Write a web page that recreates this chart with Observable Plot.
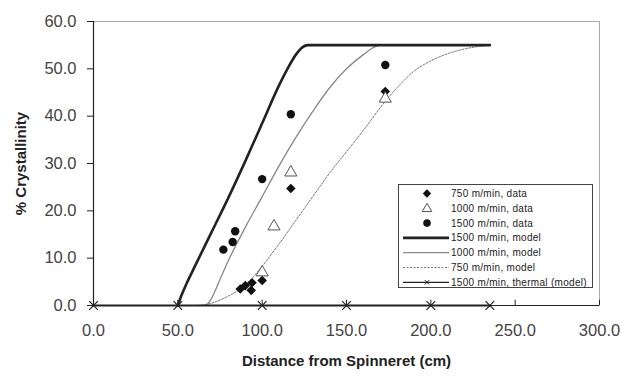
<!DOCTYPE html>
<html>
<head>
<meta charset="utf-8">
<script src="https://cdn.jsdelivr.net/npm/d3@7"></script>
<script src="https://cdn.jsdelivr.net/npm/@observablehq/plot@0.6"></script>
<style>
  body { margin: 0; background: #fff; }
  #wrap { position: relative; width: 622px; height: 383px; font-family: Arial, "Liberation Sans", sans-serif; }
  #legend { position: absolute; left: 398px; top: 184px; }
</style>
</head>
<body>
<div id="wrap"></div>
<script>
// ---- data ----
const data750 = [[87,3.5],[90,4.2],[94,4.8],[93.5,3.2],[100,5.3],[117,24.7],[173,45.2]];
const data1000 = [[100,7.0],[107,16.7],[117,28.1],[173,43.7]];
const data1500 = [[77,11.8],[82.5,13.4],[84,15.7],[100,26.7],[117,40.4],[173,50.8]];

const model1500 = [[50,0],[52,2],[55,4.5],[60,8.2],[70,15.5],[80,22.8],[90,30.5],[100,38.5],[110,46.5],[115,50],[120,53],[124,54.6],[127,55],[235,55]];
const model1000 = [[67,0],[70,1.5],[75,5.5],[80,9.5],[90,16.5],[100,23],[110,29.5],[120,35.5],[130,41],[140,46],[150,50],[160,53],[166,54.5],[170,55],[235,55]];
const model750 = [[62,0],[70,0.5],[80,2],[90,4.3],[100,8.3],[110,13],[120,18],[130,23],[140,28],[150,32.5],[160,37],[170,41.8],[180,46],[190,49.5],[200,51.7],[210,53.2],[220,54.2],[235,55]];
const thermal1500 = [[0,0],[50,0],[100,0],[150,0],[200,0],[235,0]];

const xTicks = [0,50,100,150,200,250,300];
const yTicks = [0,10,20,30,40,50,60];
const xTitle = "Distance from Spinneret (cm)";
const yTitle = "% Crystallinity";

const legendItems = [
  {label: "750 m/min, data", kind: "diamond"},
  {label: "1000 m/min, data", kind: "triangle"},
  {label: "1500 m/min, data", kind: "circle"},
  {label: "1500 m/min, model", kind: "thick"},
  {label: "1000 m/min, model", kind: "thin"},
  {label: "750 m/min, model", kind: "dash"},
  {label: "1500 m/min, thermal (model)", kind: "thermal"}
];

const fmt = d3.format(".1f");
const pt = a => a.map(([x, y]) => ({x, y}));

const chart = Plot.plot({
  width: 622,
  height: 383,
  marginLeft: 93,
  marginRight: 23,
  marginTop: 21,
  marginBottom: 78,
  style: {fontFamily: "Arial, 'Liberation Sans', sans-serif", fontSize: "16.5px", color: "#333", background: "#fff"},
  x: {domain: [0, 300]},
  y: {domain: [0, 60]},
  marks: [
    Plot.frame({stroke: "#aaa", strokeWidth: 1}),
    Plot.axisY({ticks: yTicks, tickFormat: fmt, tickSize: 6, tickPadding: 11, label: null, stroke: "#222", fill: "#444", fontSize: 16.5}),
    Plot.axisX({ticks: xTicks, tickFormat: fmt, tickSize: 0, tickPadding: 19, label: null, fill: "#444", fontSize: 16.5}),
    Plot.ruleX(xTicks, {y1: 0, y2: 1.1, stroke: "#222"}),
    Plot.ruleX([0], {stroke: "#222", strokeWidth: 1.2}),
    Plot.ruleY([0], {stroke: "#222", strokeWidth: 1.2}),
    Plot.line(pt(model750), {x: "x", y: "y", stroke: "#777", strokeWidth: 1, strokeDasharray: "2,1.5", curve: "monotone-x"}),
    Plot.line(pt(model1000), {x: "x", y: "y", stroke: "#888", strokeWidth: 1.3, curve: "monotone-x"}),
    Plot.line(pt(model1500), {x: "x", y: "y", stroke: "#222", strokeWidth: 2.6, curve: "monotone-x"}),
    Plot.line(pt(thermal1500), {x: "x", y: "y", stroke: "#222", strokeWidth: 1.8}),
    Plot.dot(pt(thermal1500), {x: "x", y: "y", symbol: "times", r: 4, stroke: "#222", strokeWidth: 1.2}),
    Plot.dot(pt(data750), {x: "x", y: "y", symbol: "diamond2", r: 4.3, fill: "#111", stroke: "none"}),
    Plot.dot(pt(data1500), {x: "x", y: "y", symbol: "circle", r: 4.2, fill: "#111", stroke: "none"}),
    Plot.dot(pt(data1000), {x: "x", y: "y", symbol: "triangle", r: 4.5, fill: "#fff", stroke: "#555", strokeWidth: 1}),
    Plot.text([xTitle], {frameAnchor: "bottom", dy: 60, fontSize: 15, fontWeight: "bold", fill: "#222"}),
    Plot.text([yTitle], {frameAnchor: "left", textAnchor: "middle", dx: -72, rotate: -90, fontSize: 15, fontWeight: "bold", fill: "#222"})
  ]
});

const wrap = document.getElementById("wrap");
wrap.appendChild(chart);

// ---- legend ----
const W = 194, H = 103, rowH = 14.8, row0 = 9.5;
const svg = d3.select(wrap).append("svg").attr("id", "legend").attr("width", W + 1).attr("height", H + 1);
svg.append("rect").attr("x", 0.5).attr("y", 0.5).attr("width", W).attr("height", H)
  .attr("fill", "#fff").attr("stroke", "#444").attr("stroke-width", 1);
legendItems.forEach((d, i) => {
  const cy = row0 + rowH * i;
  const g = svg.append("g");
  const cx = 29;
  if (d.kind === "diamond" || d.kind === "circle") {
    g.append("path").attr("d", d3.symbol(d.kind === "diamond" ? d3.symbolDiamond2 : d3.symbolCircle, 45)())
      .attr("transform", `translate(${cx},${cy})`).attr("fill", "#111");
  } else if (d.kind === "triangle") {
    g.append("path").attr("d", d3.symbol(d3.symbolTriangle, 40)())
      .attr("transform", `translate(${cx},${cy + 0.5})`).attr("fill", "#fff").attr("stroke", "#555");
  } else {
    const st = {thick: ["#222", 2.6, null], thin: ["#888", 1.3, null], dash: ["#777", 1, "2,1.5"], thermal: ["#222", 1.2, null]}[d.kind];
    g.append("line").attr("x1", 5).attr("x2", 51).attr("y1", cy).attr("y2", cy)
      .attr("stroke", st[0]).attr("stroke-width", st[1]).attr("stroke-dasharray", st[2]);
    if (d.kind === "thermal") {
      g.append("path").attr("d", d3.symbol(d3.symbolTimes, 14)())
        .attr("transform", `translate(${cx},${cy})`).attr("stroke", "#222").attr("fill", "none");
    }
  }
  g.append("text").attr("x", 53).attr("y", cy).attr("dy", "0.35em")
    .attr("font-size", 10).attr("letter-spacing", 0.3).attr("fill", "#222")
    .attr("font-family", "Arial, 'Liberation Sans', sans-serif").text(d.label);
});
</script>
</body>
</html>
